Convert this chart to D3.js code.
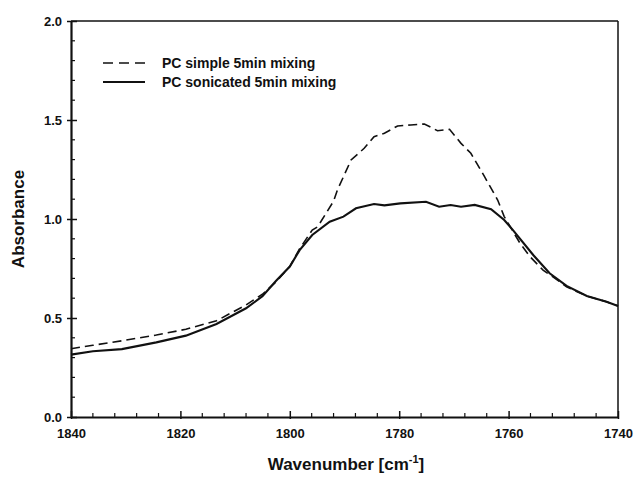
<!DOCTYPE html>
<html><head><meta charset="utf-8">
<script src="https://cdn.jsdelivr.net/npm/d3@7"></script>
<style>body{margin:0;background:#fff;}svg{display:block;font-family:"Liberation Sans",Arial,sans-serif;}</style>
</head><body><svg id="c" width="638" height="479"></svg>
<script>
const seriesNames = ["PC simple 5min mixing", "PC sonicated 5min mixing"];
const simpleWn = [1840,1836,1830.7,1824.4,1819,1813.4,1808,1805,1802.5,1800,1798.2,1795.9,1794.9,1792,1791.3,1788.8,1786.4,1784.6,1782.7,1780.3,1777.9,1775.4,1773,1770.8,1768.7,1766.9,1764.4,1762,1760.8,1757.9,1756.1,1753.7,1750.6,1749.4,1745.7,1742.1,1740];
const simpleAbs = [0.345,0.362,0.385,0.414,0.443,0.486,0.566,0.62,0.683,0.76,0.85,0.944,0.961,1.09,1.146,1.298,1.357,1.416,1.433,1.470,1.475,1.480,1.446,1.453,1.382,1.332,1.214,1.096,1.012,0.877,0.810,0.742,0.683,0.657,0.611,0.582,0.561];
const sonicWn = [1840,1836,1830.7,1824.4,1819,1813.4,1808,1805,1802.5,1800,1798.2,1795.9,1792.7,1790.2,1787.9,1784.6,1782.7,1779.8,1775.1,1772.7,1770.6,1768.7,1766.2,1763.2,1760.8,1759.2,1755.5,1752.5,1749.4,1745.7,1742.1,1740];
const sonicAbs = [0.315,0.332,0.343,0.377,0.411,0.470,0.549,0.61,0.688,0.76,0.843,0.919,0.986,1.012,1.054,1.076,1.069,1.079,1.087,1.062,1.071,1.062,1.071,1.049,0.995,0.944,0.818,0.726,0.662,0.611,0.582,0.561];
const xTicks = [1840,1820,1800,1780,1760,1740];
const yTicks = [0.0,0.5,1.0,1.5,2.0];

const svg = d3.select("#c");
const L=71, R=618, T=21, B=417;
const x = d3.scaleLinear().domain([1840,1740]).range([L,R]);
const y = d3.scaleLinear().domain([0,2]).range([B,T]);

// frame top/right
svg.append("line").attr("x1",L).attr("x2",R).attr("y1",T).attr("y2",T).attr("stroke","#111").attr("stroke-width",1.5);
svg.append("line").attr("x1",R).attr("x2",R).attr("y1",T).attr("y2",B).attr("stroke","#111").attr("stroke-width",1.5);

// minor ticks
const xMinor = d3.range(1840,1739,-4).filter(v=>!xTicks.includes(v));
const yMinor = d3.range(0,2.001,0.1).map(v=>+v.toFixed(1)).filter(v=>!yTicks.includes(v));
svg.append("g").selectAll("line").data(xMinor).join("line")
  .attr("x1",d=>x(d)).attr("x2",d=>x(d)).attr("y1",B).attr("y2",B-4).attr("stroke","#111").attr("stroke-width",1.2);
svg.append("g").selectAll("line").data(yMinor).join("line")
  .attr("x1",L).attr("x2",L+4).attr("y1",d=>y(d)).attr("y2",d=>y(d)).attr("stroke","#111").attr("stroke-width",1.2);

// axes
const xAxis = d3.axisBottom(x).tickValues(xTicks).tickSizeInner(-6).tickSizeOuter(0).tickPadding(12).tickFormat(d3.format("d"));
const gx = svg.append("g").attr("transform",`translate(0,${B})`).call(xAxis);
const yAxis = d3.axisLeft(y).tickValues(yTicks).tickSizeInner(-6).tickSizeOuter(0).tickPadding(9).tickFormat(d3.format(".1f"));
const gy = svg.append("g").attr("transform",`translate(${L},0)`).call(yAxis);
[gx,gy].forEach(g=>{
  g.select(".domain").attr("stroke","#111").attr("stroke-width",2.2);
  g.selectAll(".tick line").attr("stroke","#111").attr("stroke-width",1.5);
  g.selectAll(".tick text").attr("fill","#111").style("font-size","13px").style("font-weight","bold").style("font-family","'Liberation Sans',Arial,sans-serif");
});
// extend major ticks slightly outside
gx.selectAll(".tick").append("line").attr("y1",0).attr("y2",2).attr("stroke","#111").attr("stroke-width",1.5);
gy.selectAll(".tick").append("line").attr("x1",0).attr("x2",-4).attr("stroke","#111").attr("stroke-width",1.5);

// curves
const line = d3.line().x(d=>x(d[0])).y(d=>y(d[1]));
const simple = simpleWn.map((w,i)=>[w,simpleAbs[i]]);
const sonic = sonicWn.map((w,i)=>[w,sonicAbs[i]]);
svg.append("path").datum(simple).attr("d",line).attr("fill","none").attr("stroke","#111").attr("stroke-width",1.6).attr("stroke-dasharray","9,5");
svg.append("path").datum(sonic).attr("d",line).attr("fill","none").attr("stroke","#111").attr("stroke-width",2.1);

// legend
const lg = svg.append("g");
lg.append("line").attr("x1",103).attr("x2",145).attr("y1",63).attr("y2",63).attr("stroke","#111").attr("stroke-width",1.6).attr("stroke-dasharray","10,6");
lg.append("line").attr("x1",103).attr("x2",145).attr("y1",82).attr("y2",82).attr("stroke","#111").attr("stroke-width",2.1);
lg.append("text").attr("x",162).attr("y",68).text(seriesNames[0]).style("font-size","14px").style("font-weight","bold").attr("fill","#111");
lg.append("text").attr("x",162).attr("y",87).text(seriesNames[1]).style("font-size","14px").style("font-weight","bold").attr("fill","#111");

// axis titles
svg.append("text").attr("transform","translate(24,219) rotate(-90)").attr("text-anchor","middle")
  .style("font-size","17px").style("font-weight","bold").attr("fill","#111").text("Absorbance");
const xt = svg.append("text").attr("x",346).attr("y",470).attr("text-anchor","middle")
  .style("font-size","17px").style("font-weight","bold").attr("fill","#111");
xt.append("tspan").text("Wavenumber [cm");
xt.append("tspan").attr("dy",-7).style("font-size","11px").text("-1");
xt.append("tspan").attr("dy",7).text("]");
</script></body></html>
